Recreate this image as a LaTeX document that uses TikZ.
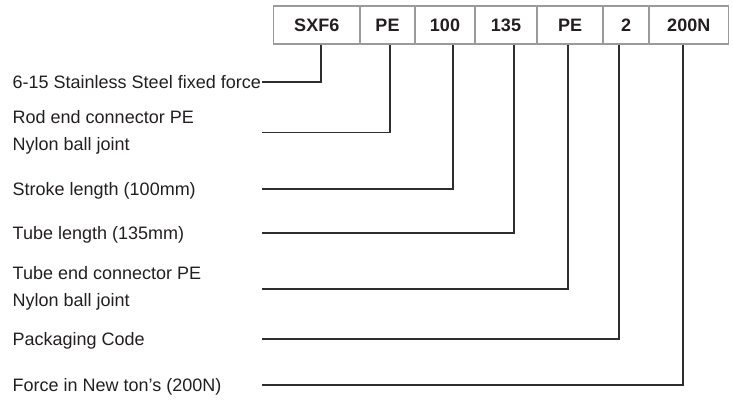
\documentclass[tikz,border=0pt]{standalone}
\usepackage{fontspec}
\setmainfont{Liberation Sans}
\definecolor{txt}{HTML}{231F20}
\definecolor{cellborder}{HTML}{9A9A9A}
\definecolor{conncol}{HTML}{2E2E2E}
\tikzset{
  cell/.style={draw=cellborder, line width=1.3pt, minimum height=38pt, inner sep=0pt,
    font=\fontsize{18}{20}\selectfont\bfseries, text=txt},
  lbl/.style={inner sep=0pt, font=\fontsize{18}{27}\selectfont, text=txt, align=left},
  conn/.style={draw=conncol, line width=1.5pt}
}
\begin{document}
\begin{tikzpicture}[x=1pt,y=-1pt]
\useasboundingbox (0,0) rectangle (733,405);
% code cells
\node[cell, minimum width=86.5pt] (c1) at (316.75,25) {SXF6};
\node[cell, minimum width=55pt]   (c2) at (387.5,25) {PE};
\node[cell, minimum width=60pt]   (c3) at (445,25) {100};
\node[cell, minimum width=62pt]   (c4) at (506,25) {135};
\node[cell, minimum width=66pt]   (c5) at (570,25) {PE};
\node[cell, minimum width=46pt]   (c6) at (626,25) {2};
\node[cell, minimum width=79.5pt] (c7) at (688.75,25) {200N};
% labels
\node[lbl, anchor=base west] (l1) at (12.5,88) {6-15 Stainless Steel fixed force};
\node[lbl, anchor=west] (l2) at (12.5,132) {Rod end connector PE\\Nylon ball joint};
\node[lbl, anchor=base west] (l3) at (12.5,195) {Stroke length (100mm)};
\node[lbl, anchor=base west] (l4) at (12.5,239) {Tube length (135mm)};
\node[lbl, anchor=west] (l5) at (12.5,288.5) {Tube end connector PE\\Nylon ball joint};
\node[lbl, anchor=base west] (l6) at (12.5,345) {Packaging Code};
\node[lbl, anchor=base west] (l7) at (12.5,391) {Force in New ton’s (200N)};
% line ends
\coordinate (e1) at (262,82);
\coordinate (e2) at (262,132.7);
\coordinate (e3) at (262,189);
\coordinate (e4) at (262,233);
\coordinate (e5) at (262,289);
\coordinate (e6) at (262,339);
\coordinate (e7) at (262,385);
% connectors
\draw[conn] ([xshift=4.25pt]c1.south) |- (e1);
\draw[conn] ([xshift=2.5pt]c2.south) |- (e2);
\draw[conn] ([xshift=8pt]c3.south) |- (e3);
\draw[conn] ([xshift=8pt]c4.south) |- (e4);
\draw[conn] ([xshift=-2pt]c5.south) |- (e5);
\draw[conn] ([xshift=-7pt]c6.south) |- (e6);
\draw[conn] ([xshift=-5.75pt]c7.south) |- (e7);
\end{tikzpicture}
\end{document}
